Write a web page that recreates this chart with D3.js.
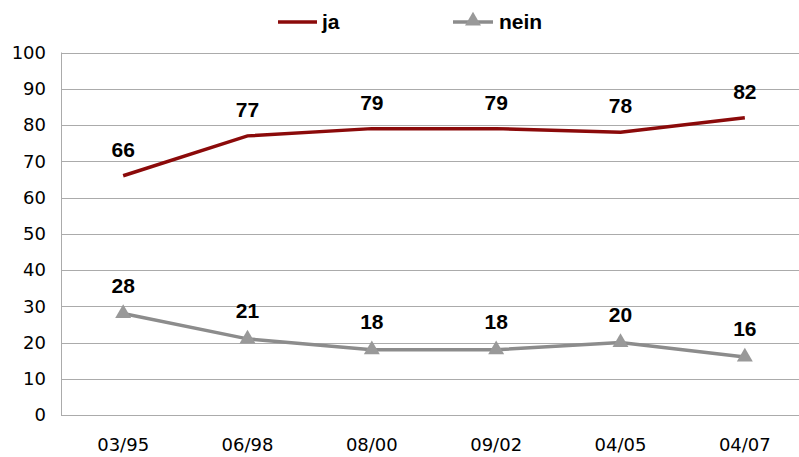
<!DOCTYPE html>
<html lang="de">
<head>
<meta charset="UTF-8">
<title>ja / nein</title>
<style>
    body { margin: 0; background: #fff; }
    .grid line { stroke: #ababab; stroke-width: 1px; }
    .axis text { font-family: "DejaVu Sans", sans-serif; font-size: 18px; fill: #000; }
    .val { font-family: "Liberation Sans", Arial, sans-serif; font-weight: bold; font-size: 21px; fill: #000; text-anchor: middle; }
    .leg { font-family: "Liberation Sans", Arial, sans-serif; font-weight: bold; font-size: 21px; fill: #000; }
</style>
<script src="https://d3js.org/d3.v7.min.js"></script>
</head>
<body>
<svg id="chart" width="799" height="457"></svg>
<script>
    const categories = ["03/95", "06/98", "08/00", "09/02", "04/05", "04/07"];
    const jaValues = [66, 77, 79, 79, 78, 82];
    const neinValues = [28, 21, 18, 18, 20, 16];
    const yTicks = [0, 10, 20, 30, 40, 50, 60, 70, 80, 90, 100];

    const svg = d3.select("#chart");
    const plotLeft = 61, plotRight = 807, plotTop = 52.5, plotBottom = 415;

    const x = d3.scaleBand().domain(categories).range([plotLeft, plotRight]);
    const cx = d => x(d) + x.bandwidth() / 2;
    const y = d3.scaleLinear().domain([0, 100]).range([plotBottom, plotTop]);

    // gridlines
    svg.append("g").attr("class", "grid")
        .selectAll("line").data(yTicks).enter().append("line")
        .attr("x1", plotLeft).attr("x2", 799)
        .attr("y1", d => Math.round(y(d)) + 0.5).attr("y2", d => Math.round(y(d)) + 0.5);

    // left axis line
    svg.append("line")
        .attr("x1", plotLeft + 0.5).attr("x2", plotLeft + 0.5)
        .attr("y1", y(100)).attr("y2", y(0))
        .style("stroke", "#ababab");

    // y labels
    svg.append("g").attr("class", "axis")
        .selectAll("text").data(yTicks).enter().append("text")
        .attr("x", 46).attr("y", d => y(d)).attr("dy", "0.36em")
        .attr("text-anchor", "end")
        .text(d => d);

    // x labels
    svg.append("g").attr("class", "axis")
        .selectAll("text").data(categories).enter().append("text")
        .attr("x", d => cx(d)).attr("y", 451)
        .attr("text-anchor", "middle")
        .text(d => d);

    const line = d3.line().x((d, i) => cx(categories[i])).y(d => y(d));
    const jaColor = "#8b0a0a", neinColor = "#8c8c8c";

    svg.append("path").datum(jaValues)
        .attr("d", line).attr("fill", "none")
        .attr("stroke", jaColor).attr("stroke-width", 3.5);

    svg.append("path").datum(neinValues)
        .attr("d", line).attr("fill", "none")
        .attr("stroke", neinColor).attr("stroke-width", 3.5);

    const tri = d3.symbol().type(d3.symbolTriangle).size(110);
    svg.selectAll(".tri").data(neinValues).enter().append("path")
        .attr("class", "tri")
        .attr("d", tri)
        .attr("transform", (d, i) => `translate(${cx(categories[i])},${y(d)})`)
        .attr("fill", "#999");

    // value labels
    svg.selectAll(".valJa").data(jaValues).enter().append("text")
        .attr("class", "val")
        .attr("x", (d, i) => cx(categories[i])).attr("y", d => y(d) - 19)
        .text(d => d);
    svg.selectAll(".valNein").data(neinValues).enter().append("text")
        .attr("class", "val")
        .attr("x", (d, i) => cx(categories[i])).attr("y", d => y(d) - 21)
        .text(d => d);

    // legend
    const lg = svg.append("g");
    lg.append("line").attr("x1", 278).attr("x2", 317).attr("y1", 22).attr("y2", 22)
        .attr("stroke", jaColor).attr("stroke-width", 3.5);
    lg.append("text").attr("class", "leg").attr("x", 322).attr("y", 29).text("ja");
    lg.append("line").attr("x1", 453).attr("x2", 493).attr("y1", 22).attr("y2", 22)
        .attr("stroke", neinColor).attr("stroke-width", 3.5);
    lg.append("path").attr("d", tri).attr("transform", "translate(473,21)").attr("fill", "#999");
    lg.append("text").attr("class", "leg").attr("x", 499).attr("y", 29).text("nein");
</script>
</body>
</html>
